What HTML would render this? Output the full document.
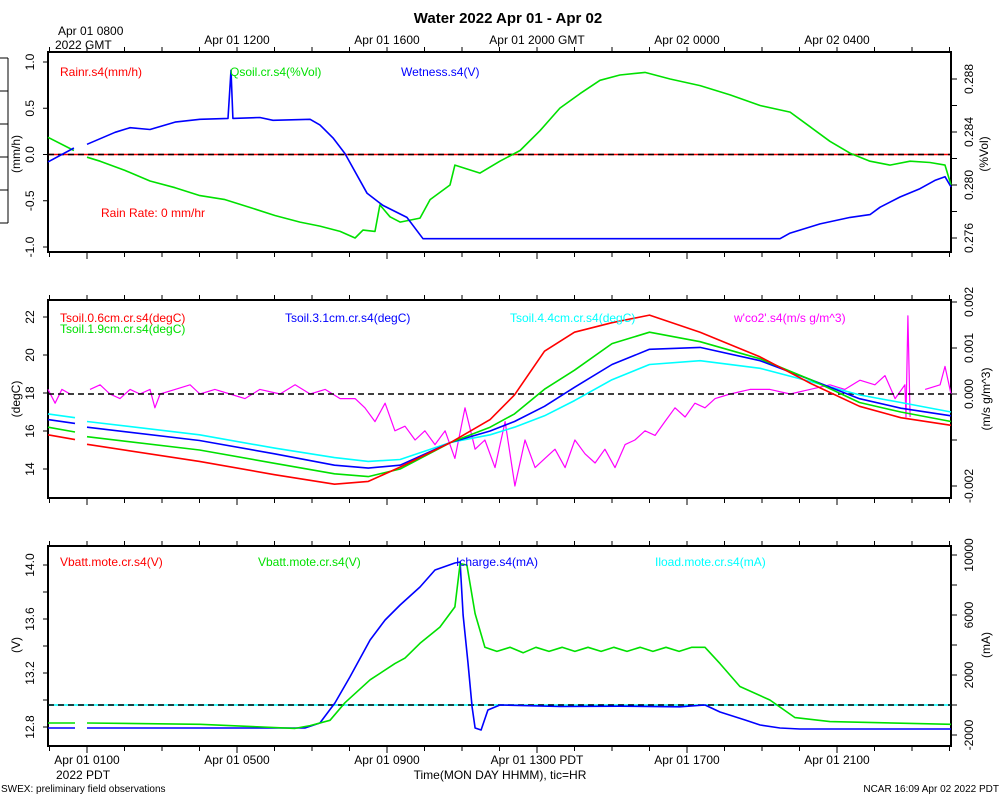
<!DOCTYPE html>
<html><head><meta charset="utf-8">
<style>
html,body{margin:0;padding:0;background:#fff;}
svg{display:block;font-family:"Liberation Sans",sans-serif;}
</style></head>
<body>
<svg id="chart" width="1000" height="800" viewBox="0 0 1000 800" xmlns="http://www.w3.org/2000/svg">
<rect width="1000" height="800" fill="#fff"/>
<text x="508" y="23" font-size="15" font-weight="bold" text-anchor="middle">Water 2022 Apr 01 - Apr 02</text>
<g id="plot"></g>
</svg>
<script>
// ---------- DATA (time in PDT hours from Apr 01 00:00) ----------
const wetT = [-0.04,0.65,null,1.00,1.75,2.15,2.68,3.35,4.01,4.76,4.84,4.89,5.61,5.96,6.95,7.21,7.56,7.88,8.47,8.89,9.53,9.96,19.48,19.75,20.55,21.35,21.88,22.15,22.68,23.21,23.61,23.88,24.04];
const wetV = [-0.08,0.07,null,0.11,0.24,0.29,0.27,0.35,0.38,0.39,0.91,0.39,0.40,0.37,0.38,0.32,0.18,0.01,-0.42,-0.55,-0.68,-0.91,-0.91,-0.85,-0.75,-0.68,-0.65,-0.57,-0.46,-0.37,-0.28,-0.24,-0.35];
const qsT = [-0.04,0.65,null,1.00,1.35,2.01,2.68,3.35,4.01,4.68,5.35,6.01,6.68,7.21,7.75,8.15,8.36,8.68,8.81,9.08,9.35,9.88,10.15,10.68,10.81,11.48,12.01,12.55,13.08,13.61,14.15,14.68,15.21,15.88,16.55,17.35,18.15,18.95,19.75,20.28,20.81,21.35,21.88,22.41,22.95,23.48,23.88,24.04];
const qsV = [0.2836,0.2826,null,0.2821,0.2818,0.2811,0.2803,0.2798,0.2792,0.2789,0.2783,0.2777,0.2772,0.2769,0.2765,0.2760,0.2766,0.2765,0.2785,0.2776,0.2772,0.2775,0.2789,0.2800,0.2815,0.2809,0.2818,0.2826,0.2841,0.2858,0.2869,0.2879,0.2883,0.2885,0.2880,0.2875,0.2868,0.2860,0.2855,0.2844,0.2833,0.2824,0.2818,0.2815,0.2818,0.2817,0.2815,0.2800];
const rainT = [-0.04,24.04];
const rainV = [0,0];

const tsT = [-0.04,0.68,null,1.0,4.0,6.0,7.6,8.5,9.35,10.7,11.75,12.4,13.2,14.0,15.0,16.0,17.35,18.95,20.3,21.6,22.7,24.04];
const ts06 = [15.8,15.55,null,15.3,14.4,13.7,13.2,13.35,14.1,15.4,16.6,17.9,20.2,21.2,21.7,22.1,21.2,19.9,18.5,17.3,16.7,16.3];
const ts19 = [16.2,15.95,null,15.7,15.0,14.3,13.75,13.6,14.0,15.4,16.2,16.9,18.2,19.2,20.6,21.2,20.7,19.8,18.7,17.5,17.0,16.5];
const ts31 = [16.6,16.4,null,16.2,15.5,14.8,14.2,14.05,14.2,15.4,16.0,16.5,17.3,18.3,19.5,20.3,20.4,19.7,18.7,17.7,17.2,16.8];
const ts44 = [16.9,16.7,null,16.5,15.8,15.1,14.6,14.4,14.5,15.4,15.8,16.2,16.8,17.6,18.7,19.5,19.7,19.3,18.6,17.9,17.5,17.0];
const co2T = [-0.04,0.15,0.33,0.55,null,1.08,1.35,1.61,1.88,2.15,2.41,2.68,2.81,2.95,3.35,3.75,4.01,4.41,4.81,5.21,5.61,6.15,6.55,6.95,7.35,7.75,8.15,8.41,8.68,8.95,9.21,9.48,9.75,10.01,10.28,10.55,10.81,11.08,11.35,11.61,11.88,12.15,12.41,12.68,12.95,13.21,13.48,13.75,14.01,14.28,14.55,14.81,15.08,15.35,15.61,15.88,16.15,16.41,16.68,16.95,17.21,17.48,17.75,18.15,18.68,19.21,19.75,20.28,20.81,21.21,21.61,22.01,22.28,22.55,22.81,22.84,22.89,22.95,null,23.35,23.75,23.88,24.04];
const co2V = [0.0001,-0.0002,0.0001,0.0000,null,0.0001,0.0002,0.0000,-0.0001,0.0001,0.0000,0.0001,-0.0003,0.0000,0.0001,0.0002,0.0000,0.0001,0.0000,-0.0001,0.0001,0.0000,0.0002,0.0000,0.0001,-0.0001,-0.0001,-0.0003,-0.0006,-0.0002,-0.0008,-0.0007,-0.0010,-0.0008,-0.0011,-0.0008,-0.0014,-0.0003,-0.0012,-0.0010,-0.0016,-0.0006,-0.0020,-0.0010,-0.0016,-0.0014,-0.0012,-0.0016,-0.0010,-0.0013,-0.0015,-0.0012,-0.0016,-0.0011,-0.0010,-0.0008,-0.0009,-0.0006,-0.0003,-0.0005,-0.0002,-0.0003,-0.0001,0.0000,0.0001,0.0001,0.0000,0.0001,0.0002,0.0001,0.0003,0.0002,0.0004,-0.0001,0.0002,-0.0005,0.0017,-0.0005,null,0.0001,0.0002,0.0006,0.0000];

const vbT = [-0.04,0.68,null,1.0,4.01,6.55,6.95,7.48,7.88,8.55,9.21,9.48,9.88,10.41,10.81,10.95,11.13,11.35,11.61,11.93,12.28,12.63,12.97,13.32,13.67,14.01,14.36,14.71,15.05,15.4,15.75,16.09,16.44,16.79,17.13,17.48,17.88,18.41,19.21,19.88,20.81,24.04];
const vbV = [12.83,12.83,null,12.83,12.82,12.79,12.81,12.85,12.98,13.15,13.27,13.31,13.42,13.54,13.69,14.01,14.0,13.64,13.39,13.36,13.39,13.35,13.39,13.36,13.39,13.36,13.39,13.36,13.39,13.36,13.39,13.36,13.39,13.36,13.39,13.39,13.27,13.1,13.0,12.87,12.84,12.82];
const icT = [-0.04,0.68,null,1.0,6.81,7.21,7.61,8.01,8.55,8.95,9.35,9.88,10.28,10.81,10.95,11.03,11.16,11.27,11.35,11.51,11.69,12.01,13.61,15.21,16.81,17.48,17.88,18.55,18.95,19.48,20.01,24.04];
const icV = [-1530,-1530,null,-1530,-1530,-1200,130,1870,4330,5670,6670,7870,9000,9470,9530,6000,2800,-130,-1530,-1670,-330,0,-100,-80,-120,0,-470,-1000,-1330,-1530,-1600,-1600];
const ilT = [-0.04,24.04];
const ilV = [0,0];

const gmtLabels = ["Apr 01 1200","Apr 01 1600","Apr 01 2000 GMT","Apr 02 0000","Apr 02 0400"];
const gmtHours = [5,9,13,17,21];
const pdtLabels = ["Apr 01 0100","Apr 01 0500","Apr 01 0900","Apr 01 1300 PDT","Apr 01 1700","Apr 01 2100"];
const pdtHours = [1,5,9,13,17,21];
const p1LeftTicks = [1.0,0.5,0.0,-0.5,-1.0];
const p1LeftLabels = ["1.0","0.5","0.0","-0.5","-1.0"];
const p1RightTicks = [0.276,0.278,0.280,0.282,0.284,0.286,0.288];
const p1RightLabels = ["0.276","","0.280","","0.284","","0.288"];
const p2LeftTicks = [14,16,18,20,22];
const p2RightTicks = [-0.002,-0.001,0,0.001,0.002];
const p2RightLabels = ["-0.002","","0.000","0.001","0.002"];
const p3LeftTicks = [12.8,13.0,13.2,13.4,13.6,13.8,14.0];
const p3LeftLabels = ["12.8","","13.2","","13.6","","14.0"];
const p3RightTicks = [-2000,0,2000,4000,6000,8000,10000];
const p3RightLabels = ["-2000","","2000","","6000","","10000"];

// ---------- DRAWING ----------
const NS = "http://www.w3.org/2000/svg";
const G = document.getElementById('plot');
const X0 = 48, X1 = 951;
function X(h){ return 87 + (h-1)*37.5; }
function lin(v0,y0,v1,y1){ return v => y0 + (v-v0)*(y1-y0)/(v1-v0); }
function mk(tag, attrs, parent){ const e=document.createElementNS(NS,tag); for(const k in attrs) e.setAttribute(k,attrs[k]); (parent||G).appendChild(e); return e; }
function txt(x,y,s,size,fill,anchor,rot){
  const t = mk('text',{x:x,y:y,'font-size':size,fill:fill||'#000','text-anchor':anchor||'start'});
  if(rot) t.setAttribute('transform','rotate('+rot+' '+x+' '+y+')');
  t.textContent=s; return t;
}
function series(ts, vs, yf, color, name, extra){
  let d='', pen=false;
  for(let i=0;i<ts.length;i++){
    if(ts[i]===null||vs[i]===null){pen=false;continue;}
    d += (pen?'L':'M')+X(ts[i]).toFixed(1)+' '+yf(vs[i]).toFixed(1)+' ';
    pen=true;
  }
  const p = mk('path',Object.assign({d:d,fill:'none',stroke:color,'stroke-width':1.6,'stroke-linejoin':'round'},extra||{}));
  
  
  return p;
}
function panel(top,bot,name){
  const r = mk('rect',{x:X0,y:top,width:X1-X0,height:bot-top,fill:'none',stroke:'#000','stroke-width':2});
  
  
  for(let h=0; h<=24; h++){
    const x=X(h); if(x<X0||x>X1) continue;
    const major = (h-1)%4===0;
    mk('line',{x1:x,y1:top,x2:x,y2:top-5,stroke:'#000','stroke-width':1});
    mk('line',{x1:x,y1:bot,x2:x,y2:bot+(major?7:5),stroke:'#000','stroke-width':1});
  }
}
function yaxisLeft(ticks,labels,yf){
  ticks.forEach((v,i)=>{ const y=yf(v);
    mk('line',{x1:X0-5,y1:y,x2:X0,y2:y,stroke:'#000'});
    if(labels[i]!=='') txt(X0-14,y,labels[i],12,'#000','middle',-90);
  });
}
function yaxisRight(ticks,labels,yf){
  ticks.forEach((v,i)=>{ const y=yf(v);
    mk('line',{x1:X1,y1:y,x2:X1+6,y2:y,stroke:'#000'});
    if(labels[i]!=='') txt(X1+22,y,labels[i],12,'#000','middle',-90);
  });
}
function dashed(y){ mk('line',{x1:X0,y1:y,x2:X1,y2:y,stroke:'#000','stroke-width':1.6,'stroke-dasharray':'6,4'}); }

// clipped external axis at far left
mk('line',{x1:8,y1:58,x2:8,y2:223,stroke:'#000'});
[58,91,124,157,190,223].forEach(y=>mk('line',{x1:0,y1:y,x2:8,y2:y,stroke:'#000'}));

// ---- Panel 1 ----
const y1L = lin(1,62,-1,247);
const y1R = lin(0.276,238,0.288,79);
panel(52,252,'water-panel');
yaxisLeft(p1LeftTicks,p1LeftLabels,y1L);
yaxisRight(p1RightTicks,p1RightLabels,y1R);
txt(20,154,'(mm/h)',12,'#000','middle',-90);
txt(988,154,'(%Vol)',12,'#000','middle',-90);
series(rainT,rainV,y1L,'#ff0000','rain-rate-line');
dashed(y1L(0));
series(qsT,qsV,y1R,'#00e000','qsoil-line');
series(wetT,wetV,y1L,'#0000ff','wetness-line');
txt(60,76,'Rainr.s4(mm/h)',12,'#ff0000');
txt(230,76,'Qsoil.cr.s4(%Vol)',12,'#00e000');
txt(401,76,'Wetness.s4(V)',12,'#0000ff');
txt(101,217,'Rain Rate: 0 mm/hr',12,'#ff0000');
// GMT labels
txt(58,35,'Apr 01 0800',12,'#000');
txt(55,49,'2022 GMT',12,'#000');
gmtLabels.forEach((s,i)=>{ const t=txt(X(gmtHours[i]),44,s,12,'#000','middle');
  
   });

// ---- Panel 2 ----
const y2L = lin(14,469,22,317);
const y2R = lin(0,394,0.002,302);
panel(300,498,'soil-temp-panel');
yaxisLeft(p2LeftTicks,p2LeftTicks.map(String),y2L);
yaxisRight(p2RightTicks,p2RightLabels,y2R);
txt(20,399,'(degC)',12,'#000','middle',-90);
txt(990,399,'(m/s g/m^3)',12,'#000','middle',-90);
series(co2T,co2V,y2R,'#ff00ff','wco2-line',{'stroke-width':1.2});
dashed(394);
series(tsT,ts44,y2L,'#00ffff','tsoil-4.4-line');
series(tsT,ts31,y2L,'#0000ff','tsoil-3.1-line');
series(tsT,ts19,y2L,'#00e000','tsoil-1.9-line');
series(tsT,ts06,y2L,'#ff0000','tsoil-0.6-line');
txt(60,322,'Tsoil.0.6cm.cr.s4(degC)',12,'#ff0000');
txt(60,333,'Tsoil.1.9cm.cr.s4(degC)',12,'#00e000');
txt(285,322,'Tsoil.3.1cm.cr.s4(degC)',12,'#0000ff');
txt(510,322,'Tsoil.4.4cm.cr.s4(degC)',12,'#00ffff');
txt(734,322,"w'co2'.s4(m/s g/m^3)",12,'#ff00ff');

// ---- Panel 3 ----
const y3L = lin(12.8,727,14.0,565);
const y3R = lin(0,705,10000,555);
panel(546,746,'battery-panel');
yaxisLeft(p3LeftTicks,p3LeftLabels,y3L);
yaxisRight(p3RightTicks,p3RightLabels,y3R);
txt(20,645,'(V)',12,'#000','middle',-90);
txt(990,645,'(mA)',12,'#000','middle',-90);
series(ilT,ilV,y3R,'#00ffff','iload-line');
dashed(705);
series(icT,icV,y3R,'#0000ff','icharge-line');
series(vbT,vbV,y3L,'#00e000','vbatt-line');
txt(60,566,'Vbatt.mote.cr.s4(V)',12,'#ff0000');
txt(258,566,'Vbatt.mote.cr.s4(V)',12,'#00e000');
txt(456,566,'Icharge.s4(mA)',12,'#0000ff');
txt(655,566,'Iload.mote.cr.s4(mA)',12,'#00ffff');
pdtLabels.forEach((s,i)=>{ const t=txt(X(pdtHours[i]),764,s,12,'#000','middle');
  
   });
txt(56,779,'2022 PDT',12,'#000');
txt(500,779,'Time(MON DAY HHMM), tic=HR',12,'#000','middle');
txt(1,792,'SWEX: preliminary field observations',10,'#000');
txt(999,792,'NCAR 16:09 Apr 02 2022 PDT',10,'#000','end');
</script>
</body></html>
